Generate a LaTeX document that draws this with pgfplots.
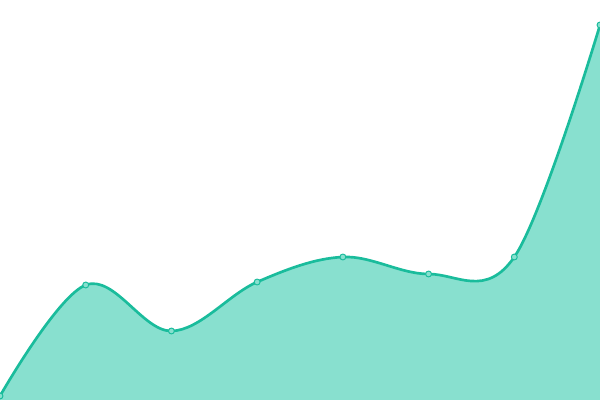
\documentclass[border=0pt]{standalone}
\usepackage{pgfplots}
\pgfplotsset{compat=1.18}
\definecolor{teal1}{HTML}{1ABC9C}
\definecolor{tealfill}{HTML}{88E0CF}
\begin{document}
\begin{tikzpicture}
\begin{axis}[
    width=15cm, height=10cm,
    scale only axis,
    hide axis,
    xmin=0, xmax=7,
    ymin=0, ymax=400,
    clip=true,
    clip marker paths=true,
]
\addplot[draw=none, fill=tealfill, smooth, tension=0.6]
    coordinates {(0,4) (1,115) (2,69) (3,118) (4,143) (5,126) (6,143) (7,375)}
    \closedcycle;
\addplot[teal1, line width=1.9pt, smooth, tension=0.6,
    mark=*, mark size=2.1pt,
    mark options={fill=tealfill, draw=teal1, line width=0.7pt}]
    coordinates {(0,4) (1,115) (2,69) (3,118) (4,143) (5,126) (6,143) (7,375)};
\coordinate (sw) at (rel axis cs:0,0);
\coordinate (ne) at (rel axis cs:1,1);
\end{axis}
\pgfresetboundingbox
\path[use as bounding box] (sw) rectangle (ne);
\end{tikzpicture}
\end{document}
